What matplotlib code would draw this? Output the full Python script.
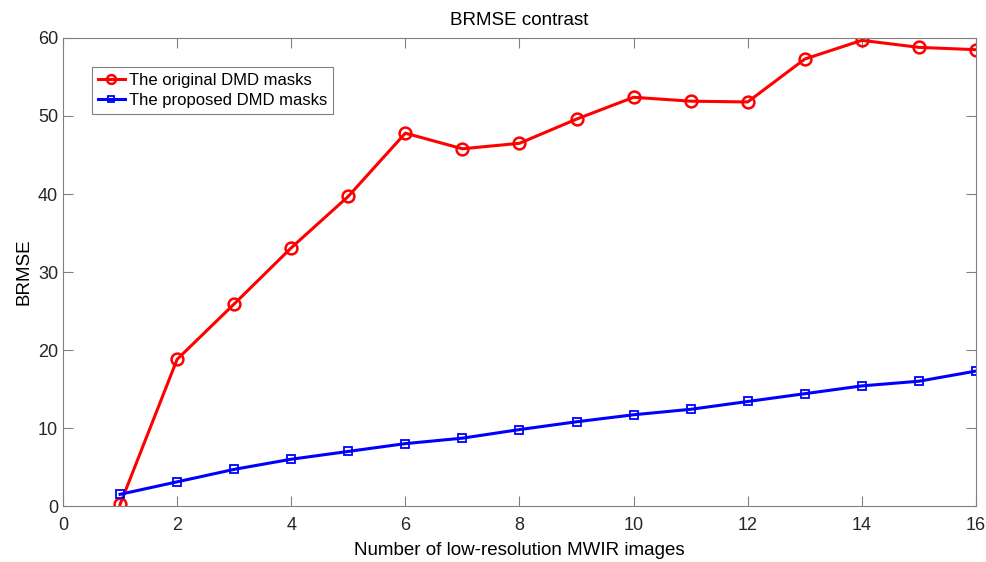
import numpy as np
import matplotlib.pyplot as plt

plt.rcParams['font.family'] = ['Liberation Sans', 'DejaVu Sans']

# number of low-resolution images
n_images = np.arange(1, 17)
# BRMSE
brmse_original = [0.2, 18.8, 25.9, 33.1, 39.7, 47.8, 45.8, 46.5, 49.6, 52.4, 51.9, 51.8, 57.3, 59.7, 58.8, 58.5]
brmse_proposed = [1.5, 3.1, 4.7, 6.0, 7.0, 8.0, 8.7, 9.8, 10.8, 11.7, 12.4, 13.4, 14.4, 15.4, 16.0, 17.3]

fig = plt.figure(figsize=(9.87, 5.62), dpi=100)
ax = fig.add_axes([0.0638, 0.0996, 0.925, 0.8328])

ax.plot(n_images, brmse_original, color='red', lw=2.2, marker='o', ms=8.5, mfc='none', mew=1.8,
        label='The original DMD masks')
ax.plot(n_images, brmse_proposed, color='blue', lw=2.2, marker='s', ms=6, mfc='none', mew=1.3,
        label='The proposed DMD masks')

ax.set_xlim(0, 16)
ax.set_ylim(0, 60)
ax.set_xticks(np.arange(0, 17, 2))
ax.set_yticks(np.arange(0, 61, 10))
ax.tick_params(direction='in', top=True, right=True, length=7, labelsize=13, colors='#262626')
ax.tick_params(axis='x', pad=8)
for s in ax.spines.values():
    s.set_color('#808080')
ax.tick_params(color='#808080')

ax.set_xlabel('Number of low-resolution MWIR images', fontsize=13.5, labelpad=6)
ax.set_ylabel('BRMSE', fontsize=13.5, labelpad=4)
ax.set_title('BRMSE contrast', fontsize=13.5, pad=9)

leg = ax.legend(loc='upper left', bbox_to_anchor=(0.0318, 0.938), fontsize=12, fancybox=False,
                framealpha=1, edgecolor='#808080', borderpad=0.35, handlelength=1.6,
                handletextpad=0.25, labelspacing=0.3, borderaxespad=0, markerscale=0.75)
leg.get_frame().set_linewidth(0.8)

plt.savefig('out.png', dpi=100)
